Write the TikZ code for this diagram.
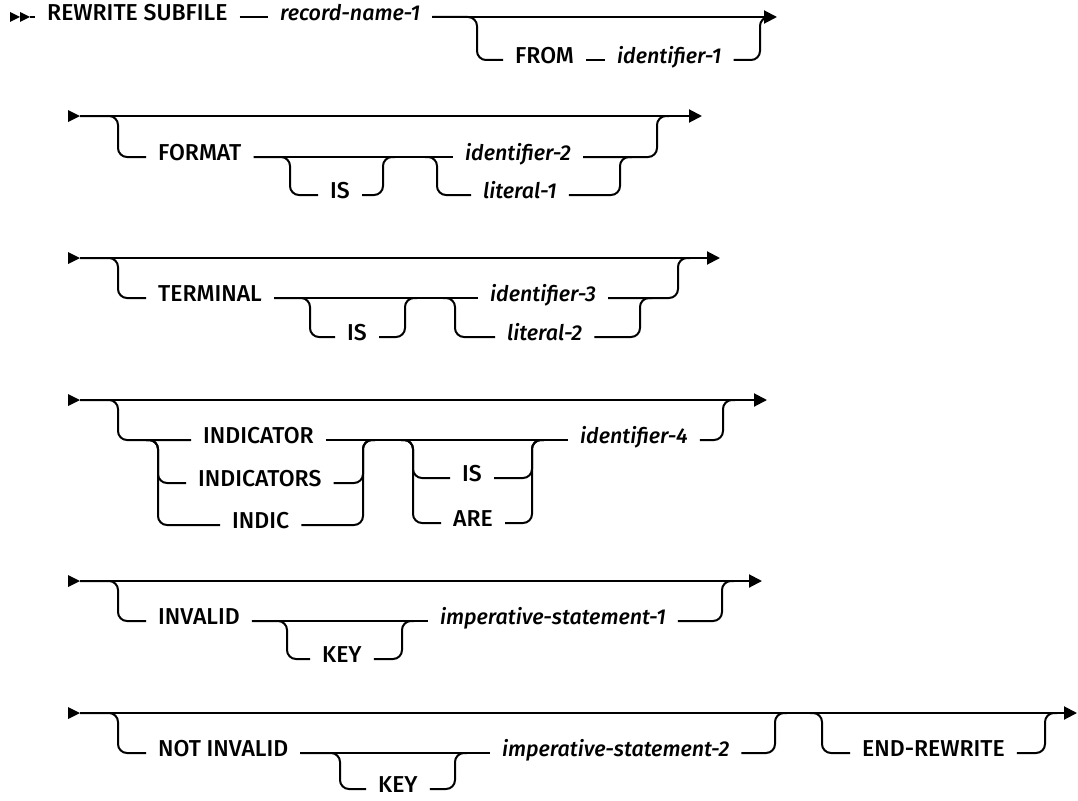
\documentclass[tikz,border=0pt]{standalone}
\usepackage{fontspec}
\setmainfont{Fira Sans}[UprightFont=* Medium, ItalicFont=* Medium Italic]
\usetikzlibrary{arrows.meta}
\begin{document}
\begin{tikzpicture}[x=1pt,y=-1pt,
  rail/.style={line width=2pt, rounded corners=9pt},
  mainrail/.style={line width=2pt, -{Triangle[length=13pt,width=13pt]}},
  kw/.style={anchor=west, inner xsep=12pt, xshift=-12pt, inner ysep=0pt,
    font=\fontsize{23}{28}\selectfont, text height=0.689em, text depth=0pt},
  var/.style={kw, font=\fontsize{21.5}{26}\selectfont\itshape},
  starttip/.style={fill=black}]
\useasboundingbox (0,0) rectangle (1078,800);

% ---------------- Row 1 ----------------
\fill[starttip] (10,12) -- (20,17) -- (10,22) -- cycle;
\fill[starttip] (20,12) -- (30,17) -- (20,22) -- cycle;
\coordinate (r1s) at (30,17);
\node[kw]  (rw)  at (47,17)  {REWRITE SUBFILE};
\node[var] (rn)  at (280,17) {record-name-1};
\node[kw]  (from) at (515,60) {FROM};
\node[var] (id1) at (617,60) {identifier-1};
\coordinate (r1e) at (777,17);
\coordinate (r1d) at (477,60);
\coordinate (r1u) at (760,17);
\draw[line width=2pt] (r1s) -- (rw.west);
\draw[line width=2pt] (rw) -- (rn);
\draw[mainrail] (rn.east) -- (r1e);
\draw[rail] (rn.east) -| (r1d) -- (from.west);
\draw[line width=2pt] (from) -- (id1);
\draw[rail] (id1.east) -| (r1u) -- ++(10,0);

% ---------------- Row 2 ----------------
\fill[starttip] (68,110) -- (80,116) -- (68,122) -- cycle;
\coordinate (r2s) at (80,116);
\coordinate (r2e) at (702,116);
\node[kw]  (fmt) at (158,157) {FORMAT};
\node[kw]  (is2) at (330,195) {IS};
\node[var] (id2) at (465,157) {identifier-2};
\node[var] (lit1) at (483,195) {literal-1};
\coordinate (r2d) at (118,157);
\coordinate (r2isd) at (290,195);
\coordinate (r2isu) at (383,157);
\coordinate (r2ld0) at (425,157);
\coordinate (r2ld) at (437,195);
\coordinate (r2lu) at (620,157);
\coordinate (r2u) at (657,116);
\draw[mainrail] (r2s) -- (r2e);
\draw[rail] (r2s) -| (r2d) -- (fmt.west);
\draw[line width=2pt] (fmt.east) -- (id2.west);
\draw[rail] (fmt.east) -| (r2isd) -- (is2.west);
\draw[rail] (is2.east) -| (r2isu) -- ++(12,0);
\draw[rail] (r2ld0) -| (r2ld) -- (lit1.west);
\draw[rail] (lit1.east) -| (r2lu) -- ++(12,0);
\draw[rail] (id2.east) -| (r2u) -- ++(12,0);

% ---------------- Row 3 ----------------
\fill[starttip] (68,252) -- (80,258) -- (68,264) -- cycle;
\coordinate (r3s) at (80,258);
\coordinate (r3e) at (720,258);
\node[kw]  (term) at (158,298) {TERMINAL};
\node[kw]  (is3) at (347,337) {IS};
\node[var] (id3) at (490,298) {identifier-3};
\node[var] (lit2) at (507,337) {literal-2};
\coordinate (r3d) at (118,298);
\coordinate (r3isd) at (310,337);
\coordinate (r3isu) at (405,298);
\coordinate (r3ld0) at (443,298);
\coordinate (r3ld) at (455,337);
\coordinate (r3lu) at (640,298);
\coordinate (r3u) at (678,258);
\draw[mainrail] (r3s) -- (r3e);
\draw[rail] (r3s) -| (r3d) -- (term.west);
\draw[line width=2pt] (term.east) -- (id3.west);
\draw[rail] (term.east) -| (r3isd) -- (is3.west);
\draw[rail] (is3.east) -| (r3isu) -- ++(12,0);
\draw[rail] (r3ld0) -| (r3ld) -- (lit2.west);
\draw[rail] (lit2.east) -| (r3lu) -- ++(12,0);
\draw[rail] (id3.east) -| (r3u) -- ++(12,0);

% ---------------- Row 4 ----------------
\fill[starttip] (68,394) -- (80,400) -- (68,406) -- cycle;
\coordinate (r4s) at (80,400);
\coordinate (r4e) at (767,400);
\node[kw]  (ind1) at (203,440) {INDICATOR};
\node[kw]  (ind2) at (198,483) {INDICATORS};
\node[kw]  (ind3) at (232,525) {INDIC};
\node[kw]  (is4)  at (462,478) {IS};
\node[kw]  (are)  at (453,523) {ARE};
\node[var] (id4)  at (580,440) {identifier-4};
\coordinate (r4d) at (118,440);
\coordinate (r4c0) at (146,440);
\coordinate (r4c2) at (158,483);
\coordinate (r4c3) at (158,525);
\coordinate (r4cu) at (363,440);
\coordinate (r4a0) at (401,440);
\coordinate (r4a1) at (413,478);
\coordinate (r4a2) at (413,523);
\coordinate (r4au) at (532,440);
\coordinate (r4u) at (723,400);
\draw[mainrail] (r4s) -- (r4e);
\draw[rail] (r4s) -| (r4d) -- (ind1.west);
\draw[rail] (r4c0) -| (r4c2) -- (ind2.west);
\draw[rail] (r4c0) -| (r4c3) -- (ind3.west);
\draw[line width=2pt] (ind1.east) -- (id4.west);
\draw[rail] (ind2.east) -| (r4cu) -- ++(12,0);
\draw[rail] (ind3.east) -| (r4cu) -- ++(12,0);
\draw[rail] (r4a0) -| (r4a1) -- (is4.west);
\draw[rail] (r4a0) -| (r4a2) -- (are.west);
\draw[rail] (is4.east) -| (r4au) -- ++(12,0);
\draw[rail] (are.east) -| (r4au) -- ++(12,0);
\draw[rail] (id4.east) -| (r4u) -- ++(12,0);

% ---------------- Row 5 ----------------
\fill[starttip] (68,575) -- (80,581) -- (68,587) -- cycle;
\coordinate (r5s) at (80,581);
\coordinate (r5e) at (762,581);
\node[kw]  (inv)  at (158,621) {INVALID};
\node[kw]  (key5) at (322,659) {KEY};
\node[var] (imp1) at (440,621) {imperative-statement-1};
\coordinate (r5d) at (118,621);
\coordinate (r5kd) at (287,659);
\coordinate (r5ku) at (402,621);
\coordinate (r5u) at (722,581);
\draw[mainrail] (r5s) -- (r5e);
\draw[rail] (r5s) -| (r5d) -- (inv.west);
\draw[line width=2pt] (inv.east) -- (imp1.west);
\draw[rail] (inv.east) -| (r5kd) -- (key5.west);
\draw[rail] (key5.east) -| (r5ku) -- ++(12,0);
\draw[rail] (imp1.east) -| (r5u) -- ++(12,0);

% ---------------- Row 6 ----------------
\fill[starttip] (68,707) -- (80,713) -- (68,719) -- cycle;
\coordinate (r6s) at (80,713);
\coordinate (r6e) at (1077,713);
\node[kw]  (ninv) at (158,753) {NOT INVALID};
\node[kw]  (key6) at (378,789) {KEY};
\node[var] (imp2) at (502,753) {imperative-statement-2};
\node[kw]  (endr) at (862,753) {END-REWRITE};
\coordinate (r6d) at (118,753);
\coordinate (r6kd) at (340,789);
\coordinate (r6ku) at (455,753);
\coordinate (r6u) at (775,713);
\coordinate (r6ed0) at (810,713);
\coordinate (r6ed) at (822,753);
\coordinate (r6eu) at (1045,713);
\draw[mainrail] (r6s) -- (r6e);
\draw[rail] (r6s) -| (r6d) -- (ninv.west);
\draw[line width=2pt] (ninv.east) -- (imp2.west);
\draw[rail] (ninv.east) -| (r6kd) -- (key6.west);
\draw[rail] (key6.east) -| (r6ku) -- ++(12,0);
\draw[rail] (imp2.east) -| (r6u) -- ++(12,0);
\draw[rail] (r6ed0) -| (r6ed) -- (endr.west);
\draw[rail] (endr.east) -| (r6eu) -- ++(12,0);
\end{tikzpicture}
\end{document}
